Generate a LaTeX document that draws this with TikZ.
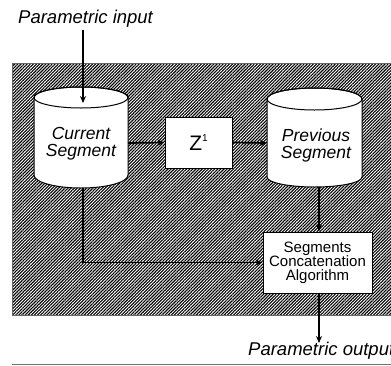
\documentclass[tikz,border=0pt]{standalone}
\usepackage{fontspec}
\setmainfont{Liberation Sans}
\usetikzlibrary{patterns.meta,arrows.meta}
\begin{document}
\begin{tikzpicture}[x=1pt,y=-1pt,
  cyl/.style={draw=black,fill=white,line width=1pt},
  blockbox/.style={draw=black,fill=white,line width=1pt,inner sep=0pt},
  arr/.style={line width=1.7pt,-{Stealth[length=7pt,width=6pt]}},
  bigit/.style={font=\itshape\fontsize{18.5}{18.5}\selectfont},
  cyltext/.style={font=\itshape\fontsize{17.5}{17}\selectfont,align=center,inner sep=0pt}]
\useasboundingbox (0,0) rectangle (391,365);
% hatched background
\fill[pattern={Lines[angle=45,distance=2.2pt,line width=1.1pt]}] (12,63) rectangle (400,315);
\draw[black!60,line width=1pt] (12,63) rectangle (400,315);
% current segment cylinder
\draw[cyl] (34,97.5) -- (34,175) arc[start angle=180,end angle=0,x radius=47,y radius=13]
  -- (128,97.5) arc[start angle=0,end angle=-180,x radius=47,y radius=10.5] -- cycle;
\draw[line width=1pt] (81,97.5) ellipse[x radius=47,y radius=10.5];
\node[cyltext] (cur) at (81,144) {Current\\Segment};
\coordinate (curtop) at (83,103);
\coordinate (curbot) at (83,188);
\coordinate (curright) at (128,143);
% previous segment cylinder
\draw[cyl] (267,99) -- (267,177) arc[start angle=180,end angle=0,x radius=47.5,y radius=10]
  -- (362,99) arc[start angle=0,end angle=-180,x radius=47.5,y radius=11] -- cycle;
\draw[line width=1pt] (314.5,99) ellipse[x radius=47.5,y radius=11];
\node[cyltext] (prev) at (316,145) {Previous\\Segment};
\coordinate (prevleft) at (267,143);
\coordinate (prevbot) at (319,187);
% delay block
\node[blockbox,minimum width=67pt,minimum height=51pt,font=\fontsize{21}{21}\selectfont] (z) at (198.5,142.5) {Z\raisebox{0.42em}{\fontsize{10}{10}\selectfont 1}};
% concatenation block
\node[blockbox,minimum width=109pt,minimum height=61pt,align=center,font=\fontsize{15}{14}\selectfont] (sca) at (317.5,262.5) {Segments\\Concatenation\\Algorithm};
% texts
\node[bigit,anchor=base west,inner sep=0pt] (inp) at (18,23) {Parametric input};
\node[bigit,anchor=base west,inner sep=0pt] (outp) at (248,355) {Parametric output};
\coordinate (inpstart) at (83,30);
\coordinate (outend) at (319,343);
% connectors
\draw[arr] (inpstart) -- (curtop);
\draw[arr] (curright) -- (z.west);
\draw[arr] (z.east) -- (prevleft);
\draw[arr] (prevbot) -- (prevbot |- sca.north);
\draw[arr] (curbot) |- (sca.west);
\draw[arr] (sca.south -| outend) -- (outend);
% bottom rule
\draw[black!55,line width=1pt] (12,364) -- (391,364);
\end{tikzpicture}
\end{document}
